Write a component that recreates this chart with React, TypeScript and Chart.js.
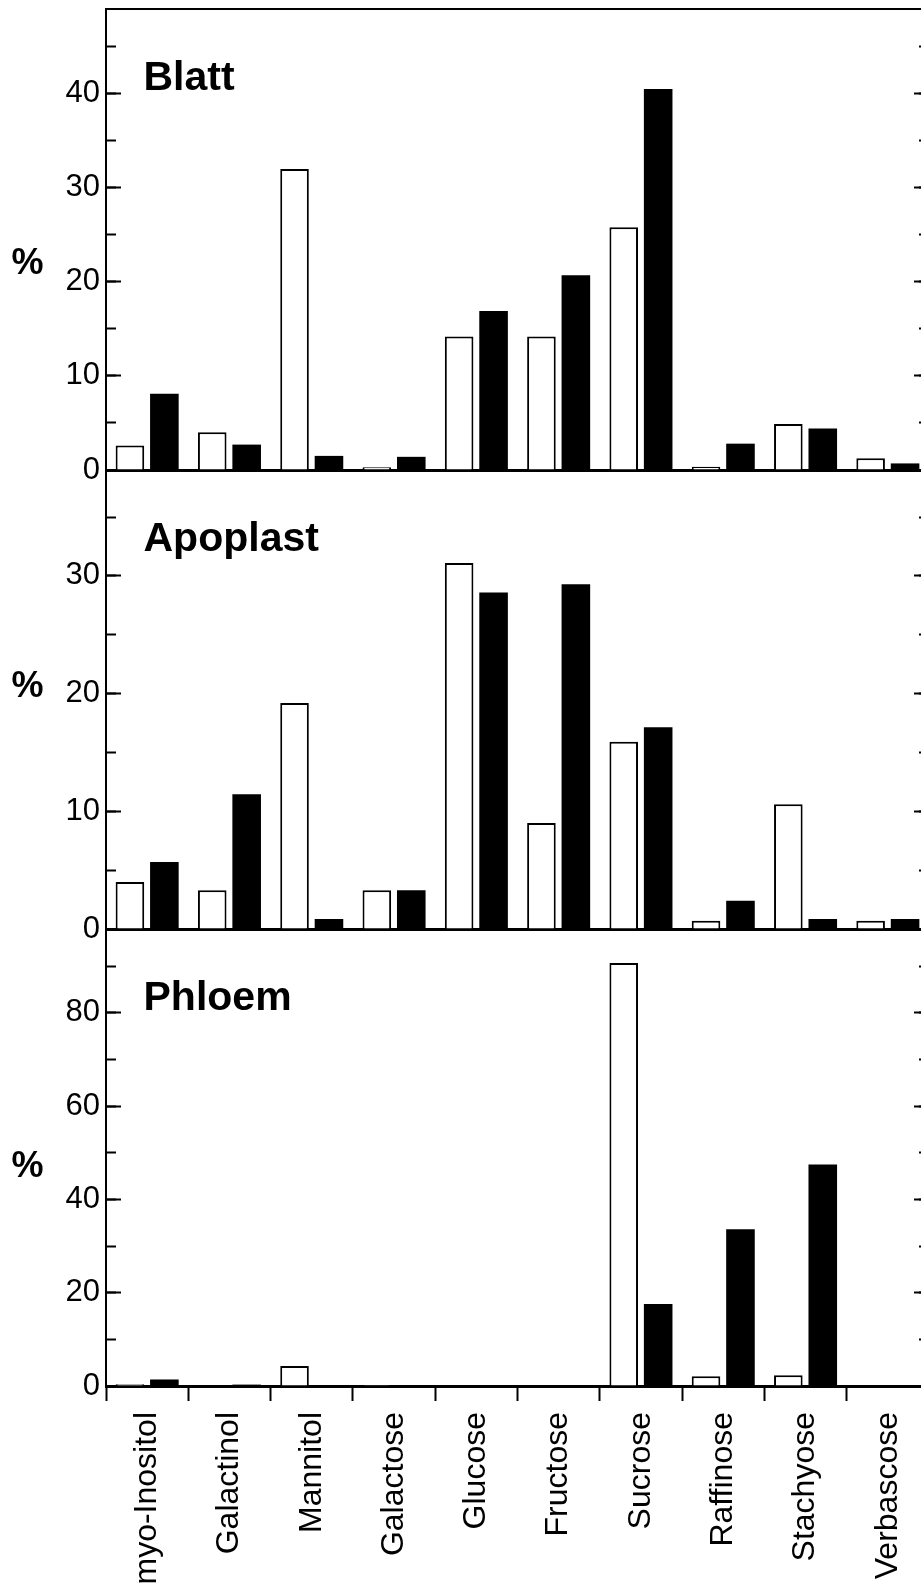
import React, { useEffect, useRef } from 'react';
import { Chart, registerables } from 'chart.js';

Chart.register(...registerables);

// ---------- data ----------
const categories = ['myo-Inositol', 'Galactinol', 'Mannitol', 'Galactose', 'Glucose', 'Fructose', 'Sucrose', 'Raffinose', 'Stachyose', 'Verbascose'];

const blattWhite = [2.6, 4.0, 32.0, 0.3, 14.2, 14.2, 25.8, 0.35, 4.9, 1.25];
const blattBlack = [8.1, 2.7, 1.5, 1.4, 16.9, 20.7, 40.5, 2.8, 4.4, 0.7];

const apoplastWhite = [4.0, 3.3, 19.2, 3.3, 31.1, 9.0, 15.9, 0.7, 10.6, 0.7];
const apoplastBlack = [5.7, 11.45, 0.85, 3.3, 28.6, 29.3, 17.15, 2.4, 0.85, 0.85];

const phloemWhite = [0.4, 0, 4.3, 0.2, 0, 0, 90.7, 2.1, 2.3, 0];
const phloemBlack = [1.4, 0.3, 0, 0.1, 0, 0, 17.6, 33.6, 47.5, 0];

const panelTitles = ['Blatt', 'Apoplast', 'Phloem'];
const yMaxima = [49, 39, 98];
const majorSteps = [10, 10, 20];
const minorSteps = [5, 5, 10];

// ---------- styling ----------
const FONT = '"Liberation Sans", Arial, Helvetica, sans-serif';
const CANVAS_W = 935;

type PanelCfg = {
  title: string;
  white: number[];
  black: number[];
  yMax: number;
  major: number;
  minor: number;
  top: number;
  height: number;
  areaTop: number;
  areaBottom: number;
  topFrame: boolean;
  labels: boolean;
  pctFrac: number;
};

const panels: PanelCfg[] = [
  { title: panelTitles[0], white: blattWhite, black: blattBlack, yMax: yMaxima[0], major: majorSteps[0], minor: minorSteps[0], top: 0, height: 490, areaTop: 9, areaBottom: 470, topFrame: true, labels: false, pctFrac: 0.553 },
  { title: panelTitles[1], white: apoplastWhite, black: apoplastBlack, yMax: yMaxima[1], major: majorSteps[1], minor: minorSteps[1], top: 460, height: 490, areaTop: 10, areaBottom: 469, topFrame: false, labels: false, pctFrac: 0.473 },
  { title: panelTitles[2], white: phloemWhite, black: phloemBlack, yMax: yMaxima[2], major: majorSteps[2], minor: minorSteps[2], top: 919, height: 666, areaTop: 10, areaBottom: 467, topFrame: false, labels: true, pctFrac: 0.521 },
];

const panelTextPlugin = {
  id: 'panelText',
  afterDraw(chart: any, _args: any, opts: any) {
    const { ctx, chartArea } = chart;
    ctx.save();
    ctx.fillStyle = '#000';
    ctx.font = `bold 41px ${FONT}`;
    ctx.textAlign = 'left';
    ctx.textBaseline = 'alphabetic';
    ctx.fillText(opts.title, chartArea.left + 37.5, chartArea.top + 80.5);
    ctx.font = `bold 36px ${FONT}`;
    ctx.textAlign = 'center';
    ctx.textBaseline = 'middle';
    ctx.fillText('%', 27.5, chartArea.top + opts.pctFrac * (chartArea.bottom - chartArea.top));
    ctx.restore();
  },
};

function zeroPad(s: any) {
  s.paddingTop = 0;
  s.paddingBottom = 0;
  s.paddingLeft = 0;
  s.paddingRight = 0;
}

function yAxis(cfg: PanelCfg, position: 'left' | 'right', minor: boolean, width: number, showLabels: boolean) {
  return {
    type: 'linear',
    position,
    min: 0,
    max: cfg.yMax,
    weight: minor ? 0 : 1,
    ticks: {
      display: showLabels,
      stepSize: minor ? cfg.minor : cfg.major,
      includeBounds: false,
      autoSkip: false,
      padding: 21,
      color: '#000',
      font: { family: FONT, size: 31 },
    },
    grid: {
      display: true,
      drawOnChartArea: false,
      drawTicks: true,
      tickLength: minor ? -10 : -15,
      tickColor: '#000',
      tickWidth: 2,
    },
    border: { display: !minor, color: '#000', width: 2 },
    afterFit: (s: any) => {
      s.width = width;
      zeroPad(s);
    },
  };
}

function buildConfig(cfg: PanelCfg): any {
  const bottomH = cfg.height - cfg.areaBottom;
  const scales: any = {
    x: {
      type: 'category',
      position: 'bottom',
      offset: true,
      ticks: cfg.labels
        ? {
            display: true,
            autoSkip: false,
            minRotation: 90,
            maxRotation: 90,
            padding: 11,
            color: '#000',
            font: { family: FONT, size: 32 },
          }
        : { display: false },
      grid: cfg.labels
        ? { display: true, offset: true, drawOnChartArea: false, drawTicks: true, tickLength: 15, tickColor: '#000', tickWidth: 2 }
        : { display: false },
      border: { display: true, color: '#000', width: 3 },
      afterFit: (s: any) => {
        s.height = bottomH;
        zeroPad(s);
      },
    },
    y: yAxis(cfg, 'left', false, 106, true),
    yMinor: yAxis(cfg, 'left', true, 0, false),
    yR: yAxis(cfg, 'right', false, CANVAS_W - 929, false),
    yRMinor: yAxis(cfg, 'right', true, 0, false),
  };
  if (cfg.topFrame) {
    scales.xTop = {
      type: 'category',
      position: 'top',
      offset: true,
      ticks: { display: false },
      grid: { display: false },
      border: { display: true, color: '#000', width: 2 },
      afterFit: (s: any) => {
        s.height = cfg.areaTop;
        zeroPad(s);
      },
    };
  }
  return {
    type: 'bar',
    data: {
      labels: categories,
      datasets: [
        {
          label: 'white',
          data: cfg.white,
          backgroundColor: '#ffffff',
          borderColor: '#000000',
          borderWidth: 2,
          categoryPercentage: 0.837,
          barPercentage: 0.83,
          xAxisID: 'x',
          yAxisID: 'y',
        },
        {
          label: 'black',
          data: cfg.black,
          backgroundColor: '#000000',
          borderColor: '#000000',
          borderWidth: 0,
          categoryPercentage: 0.837,
          barPercentage: 0.83,
          xAxisID: 'x',
          yAxisID: 'y',
        },
      ],
    },
    options: {
      responsive: false,
      animation: false,
      devicePixelRatio: 1,
      layout: { padding: { top: cfg.topFrame ? 0 : cfg.areaTop, left: 0, right: 0, bottom: 0 } },
      plugins: {
        legend: { display: false },
        tooltip: { enabled: false },
        title: { display: false },
        panelText: { title: cfg.title, pctFrac: cfg.pctFrac },
      },
      scales,
    },
    plugins: [panelTextPlugin],
  };
}

function Panel({ cfg }: { cfg: PanelCfg }) {
  const ref = useRef<HTMLCanvasElement>(null);
  useEffect(() => {
    if (!ref.current) return;
    const chart = new Chart(ref.current, buildConfig(cfg));
    return () => chart.destroy();
  }, [cfg]);
  return (
    <canvas
      ref={ref}
      width={CANVAS_W}
      height={cfg.height}
      style={{ position: 'absolute', left: 0, top: cfg.top, width: CANVAS_W, height: cfg.height, display: 'block' }}
    />
  );
}

export default function App() {
  return (
    <div
      style={{
        position: 'absolute',
        left: 0,
        top: 0,
        width: 921,
        height: 1585,
        overflow: 'hidden',
        background: '#fff',
      }}
    >
      {panels.map((p) => (
        <Panel key={p.title} cfg={p} />
      ))}
    </div>
  );
}
